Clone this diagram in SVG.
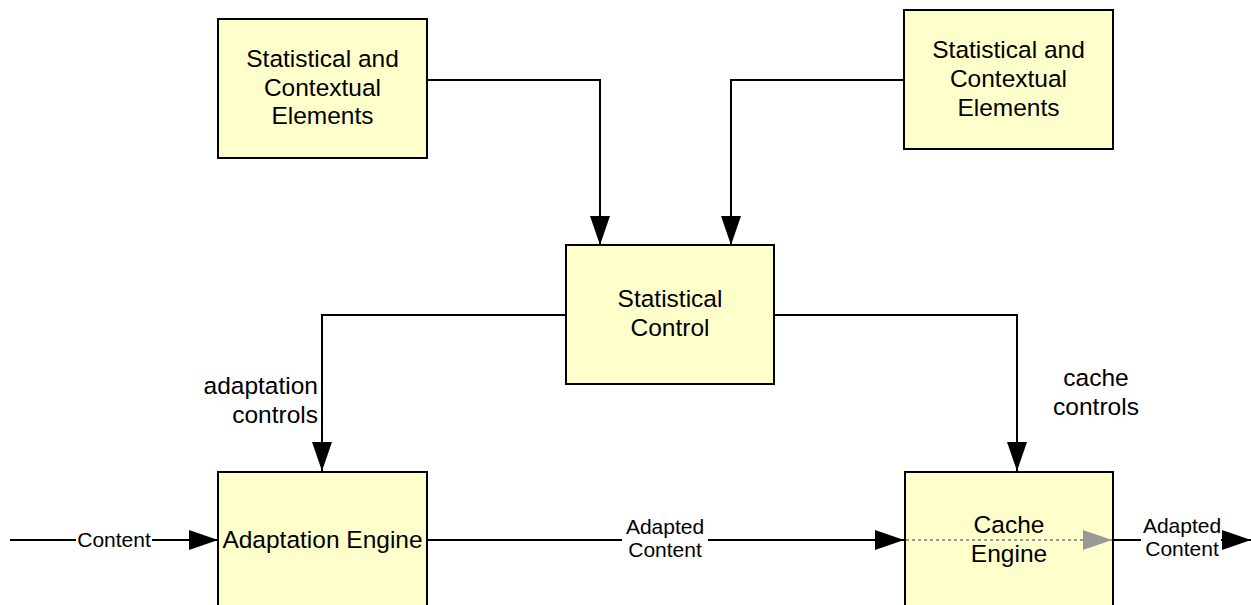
<svg xmlns="http://www.w3.org/2000/svg" width="1251" height="605" viewBox="0 0 1251 605">
  <style>
    .box { fill: #FFFFCC; stroke: #000; stroke-width: 2; }
    .lbl { font-family: "Liberation Sans", Arial, sans-serif; font-size: 24.5px; fill: #000; text-anchor: middle; }
    .sm { font-family: "Liberation Sans", Arial, sans-serif; font-size: 21px; fill: #000; text-anchor: middle; }
    .wire { fill: none; stroke: #000; stroke-width: 2; }
    .dots { fill: none; stroke: #999; stroke-width: 2; stroke-dasharray: 3 3; }
    .bg { fill: #fff; }
  </style>
  <defs>
    <marker id="arrow" markerWidth="29" markerHeight="20" refX="29" refY="10" orient="auto" markerUnits="userSpaceOnUse">
      <path d="M0,0 L29,10 L0,20 Z" fill="#000"/>
    </marker>
    <marker id="arrowGrey" markerWidth="29" markerHeight="20" refX="29" refY="10" orient="auto" markerUnits="userSpaceOnUse">
      <path d="M0,0 L29,10 L0,20 Z" fill="#999"/>
    </marker>
  </defs>

  <rect width="1251" height="605" fill="#fff"/>

  <!-- connectors -->
  <g id="connectors">
    <path class="wire" d="M427,80 H600 V245" marker-end="url(#arrow)"/>
    <path class="wire" d="M904,80 H731 V245" marker-end="url(#arrow)"/>
    <path class="wire" d="M566,315 H322 V471" marker-end="url(#arrow)"/>
    <path class="wire" d="M774,315 H1017 V471" marker-end="url(#arrow)"/>
    <path class="wire" d="M10,540 H218" marker-end="url(#arrow)"/>
    <path class="wire" d="M427,540 H904" marker-end="url(#arrow)"/>
    <path class="wire" d="M1113,540 H1251" marker-end="url(#arrow)"/>

    <!-- edge labels -->
    <rect class="bg" x="76" y="528" width="76" height="24"/>
    <text class="sm" x="114" y="547">Content</text>
    <rect class="bg" x="622" y="515" width="86" height="48"/>
    <text class="sm" x="665" y="534">Adapted</text>
    <text class="sm" x="665" y="557">Content</text>
    <rect class="bg" x="1141" y="515" width="80" height="48"/>
    <text class="sm" x="1182" y="533">Adapted</text>
    <text class="sm" x="1182" y="556">Content</text>

    <text class="lbl" x="318" y="394" text-anchor="end" style="text-anchor:end">adaptation</text>
    <text class="lbl" x="318" y="423" style="text-anchor:end">controls</text>
    <text class="lbl" x="1096" y="386">cache</text>
    <text class="lbl" x="1096" y="415">controls</text>
  </g>

  <g id="elements-left">
    <rect class="box" x="218" y="19" width="209" height="139"/>
    <text class="lbl" x="322.5" y="67">Statistical and</text>
    <text class="lbl" x="322.5" y="95.5">Contextual</text>
    <text class="lbl" x="322.5" y="124">Elements</text>
  </g>

  <g id="elements-right">
    <rect class="box" x="904" y="10" width="209" height="139"/>
    <text class="lbl" x="1008.5" y="58">Statistical and</text>
    <text class="lbl" x="1008.5" y="87">Contextual</text>
    <text class="lbl" x="1008.5" y="115.5">Elements</text>
  </g>

  <g id="statistical-control">
    <rect class="box" x="566" y="245" width="208" height="139"/>
    <text class="lbl" x="670" y="307">Statistical</text>
    <text class="lbl" x="670" y="335.5">Control</text>
  </g>

  <g id="adaptation-engine">
    <rect class="box" x="218" y="472" width="209" height="150"/>
    <text class="lbl" x="322.5" y="548">Adaptation Engine</text>
  </g>

  <g id="cache-engine">
    <rect class="box" x="905" y="472" width="208" height="150"/>
    <text class="lbl" x="1009" y="533">Cache</text>
    <text class="lbl" x="1009" y="562">Engine</text>
    <path class="dots" d="M906,540 H1112" marker-end="url(#arrowGrey)"/>
  </g>
</svg>
